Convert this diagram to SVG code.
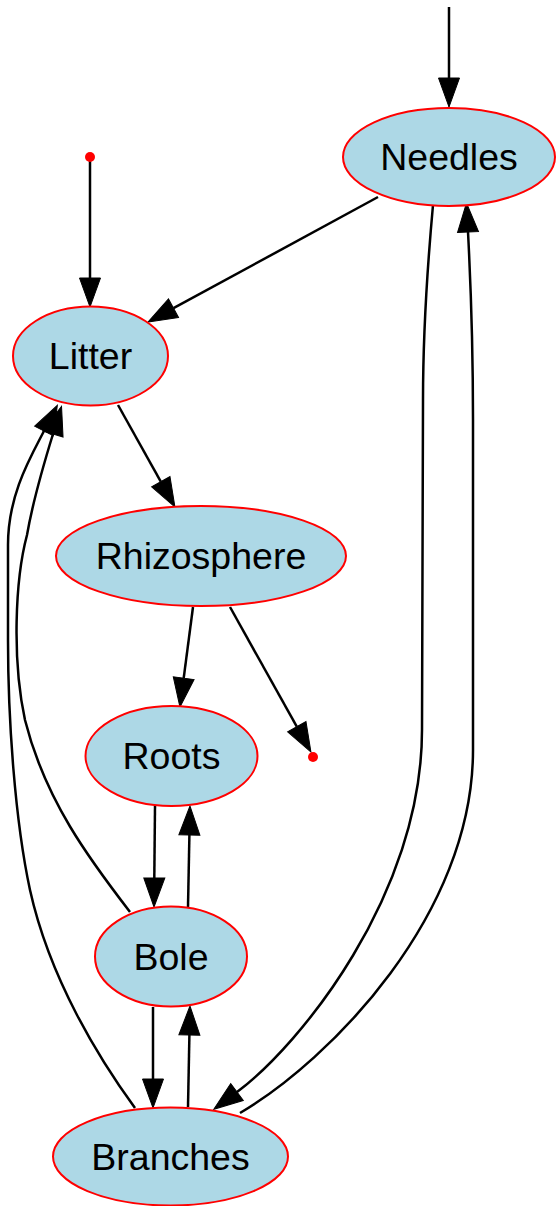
<svg xmlns="http://www.w3.org/2000/svg" width="556" height="1206" viewBox="0 0 556 1206">
<style>
.node ellipse{fill:#add8e6;stroke:#ff0000;stroke-width:2}
.node text{font-family:"Liberation Sans",Arial,sans-serif;font-size:37.5px;fill:#000;text-anchor:middle}
.pt{fill:#ff0000}
#edges path{fill:none;stroke:#000;stroke-width:2.5}
</style>
<defs>
<marker id="ah" markerUnits="userSpaceOnUse" markerWidth="40" markerHeight="30" refX="0" refY="0" viewBox="-2 -15 40 30" orient="auto" overflow="visible">
<path d="M0,-10.5 L29,0 L0,10.5 z" fill="#000" stroke="#000" stroke-width="1"/>
</marker>
</defs>
<rect width="556" height="1206" fill="#fff"/>
<g id="edges">
<path d="M449,7 L449,78" marker-end="url(#ah)"/>
<path d="M90,160 L90,278" marker-end="url(#ah)"/>
<path d="M378,197 L173.5,308.2" marker-end="url(#ah)"/>
<path d="M118,405 L160.8,481.7" marker-end="url(#ah)"/>
<path d="M193,607 L183.7,678.2" marker-end="url(#ah)"/>
<path d="M230,607 L296.8,726.7" marker-end="url(#ah)"/>
<path d="M155,806 L154.3,878" marker-end="url(#ah)"/>
<path d="M188,907 L189.4,835" marker-end="url(#ah)"/>
<path d="M153,1007 L153,1079" marker-end="url(#ah)"/>
<path d="M188,1107 L189.4,1035" marker-end="url(#ah)"/>
<path d="M433,205 C428,260 423,330 423,400 L422,730 C422,895 300,1045 237,1092" marker-end="url(#ah)"/>
<path d="M240,1113 C330,1060 473,915 473,750 L473,420 C473,330 470,270 468,232" marker-end="url(#ah)"/>
<path d="M130,912 C90,860 45,800 25,720 C12,660 15,580 27,535 C33,500 45,460 53,434" marker-end="url(#ah)"/>
<path d="M135,1108 C100,1060 50,980 30,890 C15,820 8,720 8,640 L8,545 C8,495 30,458 44,431" marker-end="url(#ah)"/>
</g>
<g id="start1"><circle class="pt" cx="90" cy="157" r="5"/></g>
<g id="sink1"><circle class="pt" cx="313" cy="757" r="5"/></g>
<g id="Needles" class="node"><ellipse cx="449" cy="157" rx="106" ry="49"/><text x="449" y="170">Needles</text></g>
<g id="Litter" class="node"><ellipse cx="90.5" cy="356" rx="77.5" ry="49.5"/><text x="90.5" y="369">Litter</text></g>
<g id="Rhizosphere" class="node"><ellipse cx="201" cy="556" rx="145" ry="50"/><text x="201" y="569">Rhizosphere</text></g>
<g id="Roots" class="node"><ellipse cx="171.5" cy="756" rx="86" ry="50"/><text x="171.5" y="769">Roots</text></g>
<g id="Bole" class="node"><ellipse cx="171" cy="956.5" rx="76" ry="50"/><text x="171" y="970">Bole</text></g>
<g id="Branches" class="node"><ellipse cx="170.5" cy="1156.5" rx="117.5" ry="49"/><text x="170.5" y="1170">Branches</text></g>
</svg>
